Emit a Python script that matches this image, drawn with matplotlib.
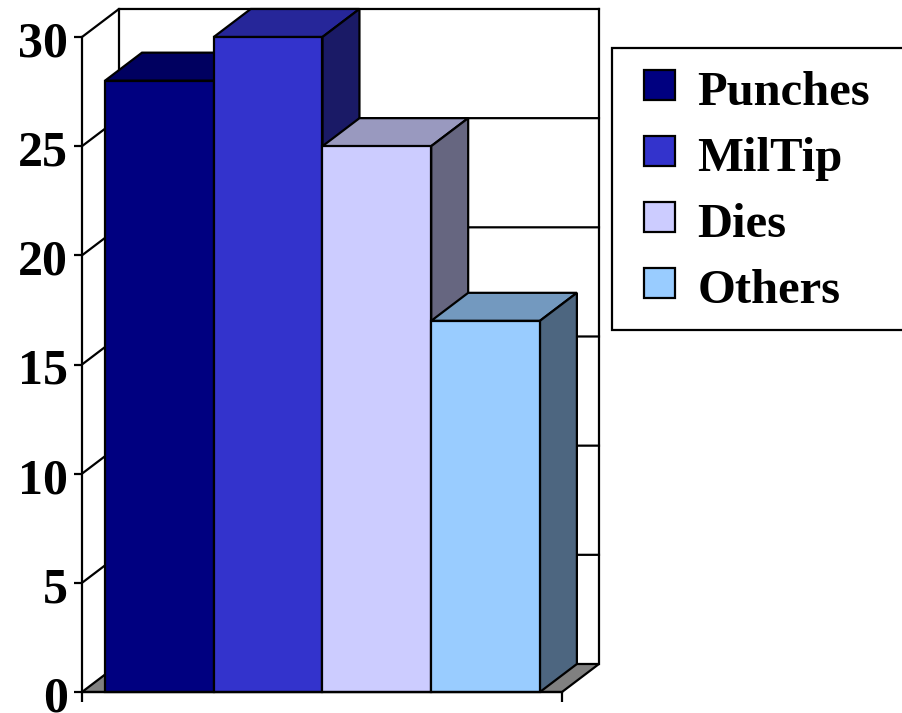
import matplotlib
matplotlib.use("Agg")
import matplotlib.pyplot as plt
from matplotlib.patches import Polygon, Patch
from matplotlib.legend_handler import HandlerPatch
from matplotlib.transforms import ScaledTranslation

categories = ["Punches", "MilTip", "Dies", "Others"]
values = [28, 30, 25, 17]
colors = ["#000080", "#3333CC", "#CCCCFF", "#99CCFF"]
top_colors = ["#000060", "#262699", "#9999BF", "#7399BF"]
side_colors = ["#000040", "#1A1A66", "#666680", "#4D6680"]
yticks = [0, 5, 10, 15, 20, 25, 30]

W, H = 903, 713
fig = plt.figure(figsize=(W / 100, H / 100), dpi=100, facecolor="white")
ax = fig.add_axes([82 / W, (H - 692) / H, 480 / W, 655 / H])
plt.rcParams["font.family"] = "Liberation Serif"

LW = 1.6
XMIN, XMAX = -0.712, 3.703
DX, DY = 0.34, 1.283  # oblique depth, in data units
ax.set_xlim(XMIN, XMAX)
ax.set_ylim(0, 30)
ax.patch.set_visible(False)

# floor
ax.add_patch(Polygon([(XMIN, 0), (XMIN + DX, DY), (XMAX + DX, DY), (XMAX, 0)],
                     closed=True, fc="#808080", ec="black", lw=LW, clip_on=False, zorder=1))
# walls and gridlines
ax.plot([XMIN + DX, XMIN + DX], [DY, 30 + DY], color="black", lw=LW, clip_on=False, zorder=1)
ax.plot([XMAX + DX, XMAX + DX], [DY, 30 + DY], color="black", lw=LW, clip_on=False, zorder=1)
for t in yticks[1:]:
    ax.plot([XMIN, XMIN + DX, XMAX + DX], [t, t + DY, t + DY], color="black", lw=LW,
            clip_on=False, zorder=1, solid_joinstyle="miter")

# bars
for i, v in enumerate(values):
    l, r = i - 0.5, i + 0.5
    z = 3 + i
    ax.add_patch(Polygon([(l, v), (l + DX, v + DY), (r + DX, v + DY), (r, v)], closed=True,
                         fc=top_colors[i], ec="black", lw=LW, clip_on=False, zorder=z))
    ax.add_patch(Polygon([(r, 0), (r + DX, DY), (r + DX, v + DY), (r, v)], closed=True,
                         fc=side_colors[i], ec="black", lw=LW, clip_on=False, zorder=z))
    ax.bar(i, v, width=1, color=colors[i], edgecolor="black", linewidth=LW, zorder=z, clip_on=False)

# axes
for s in ("top", "right"):
    ax.spines[s].set_visible(False)
for s in ("left", "bottom"):
    ax.spines[s].set_linewidth(LW)
    ax.spines[s].set_zorder(10)
ax.set_xticks([XMIN, XMAX])
ax.set_xticklabels(["", ""])
ax.set_yticks(yticks)
ax.set_yticklabels([str(t) for t in yticks], fontsize=36, fontweight="bold",
                   family="Liberation Serif", va="center")
ax.tick_params(axis="x", length=7, width=LW)
ax.tick_params(axis="y", length=6, width=LW, pad=4)
shift = ScaledTranslation(0, -7.5 / 100, fig.dpi_scale_trans)
for lab in ax.get_yticklabels():
    lab.set_transform(lab.get_transform() + shift)

# legend, its frame running off the right edge
handles = [Patch(fc=c, ec="black", lw=LW) for c in colors]
leg = ax.legend(handles, categories, loc="upper left",
                bbox_to_anchor=(612 / W, (H - 330) / H, 320 / W, 282 / H),
                bbox_transform=fig.transFigure, mode="expand", borderaxespad=0,
                prop={"family": "Liberation Serif", "weight": "bold", "size": 35},
                fancybox=False, edgecolor="black", framealpha=1, facecolor="white",
                handlelength=0.87, handleheight=0.58, handletextpad=0.47,
                labelspacing=0.45, borderpad=0.42,
                handler_map={Patch: HandlerPatch(xpad=0.23)})
leg.get_frame().set_linewidth(LW)
leg.set_zorder(20)
for txt in leg.get_texts():
    txt.set_y(-3)

fig.savefig("out.png", dpi=100, facecolor="white")
